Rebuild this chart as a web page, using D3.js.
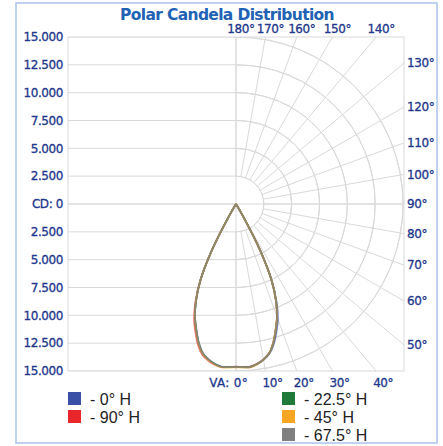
<!DOCTYPE html>
<html>
<head>
<meta charset="utf-8">
<script src="https://cdn.jsdelivr.net/npm/d3@7"></script>
<style>
  html, body { margin: 0; padding: 0; background: #fff; }
  svg { display: block; }
</style>
</head>
<body>
<svg id="chart" width="443" height="446"></svg>
<script>
// ---------- data ----------
const title = "Polar Candela Distribution";
const cdTicks = [15000, 12500, 10000, 7500, 5000, 2500, 0, -2500, -5000, -7500, -10000, -12500, -15000];
const cdTickLabels = ["15.000", "12.500", "10.000", "7.500", "5.000", "2.500", "CD: 0", "2.500", "5.000", "7.500", "10.000", "12.500", "15.000"];
const arcRadii = [2500, 5000, 7500, 10000, 12500, 15000];
const gridAngles = [0, 10, 20, 30, 40, 50, 60, 70, 80, 90, 100, 110, 120, 130, 140, 150, 160, 170, 180];
const bottomAngleLabels = [0, 10, 20, 30, 40];
const rightAngleLabels = [50, 60, 70, 80, 90, 100, 110, 120, 130];
const topAngleLabels = [140, 150, 160, 170, 180];

// vertical angles (degrees from nadir) for candela values
const vAngles = [0, 2.5, 5, 7.5, 10, 12.5, 15, 17.5, 20, 22.5, 25, 27.5, 30, 32.5, 35];

const h0Right   = [14640, 14670, 14700, 14520, 14220, 13800, 13060, 12060, 11000, 9520, 7600, 4750, 1250, 0, 0];
const h0Left    = [14640, 14650, 14680, 14490, 14170, 13720, 12900, 11830, 10760, 9360, 7560, 4730, 1240, 0, 0];
const h90Right  = [14620, 14640, 14670, 14480, 14170, 13730, 12910, 11840, 10760, 9360, 7560, 4740, 1250, 0, 0];
const h90Left   = [14620, 14650, 14700, 14560, 14290, 13900, 13140, 12090, 10990, 9500, 7620, 4760, 1260, 0, 0];
const h225Right = [14640, 14660, 14690, 14500, 14190, 13750, 12930, 11860, 10780, 9380, 7570, 4740, 1250, 0, 0];
const h225Left  = [14640, 14660, 14690, 14500, 14190, 13750, 12930, 11860, 10780, 9380, 7570, 4740, 1250, 0, 0];
const h45Right  = [14680, 14700, 14720, 14530, 14200, 13740, 12910, 11840, 10770, 9370, 7560, 4730, 1250, 0, 0];
const h45Left   = [14680, 14700, 14730, 14560, 14240, 13800, 12990, 11910, 10830, 9410, 7580, 4740, 1250, 0, 0];
const h675Right = [14650, 14660, 14690, 14500, 14180, 13740, 12920, 11850, 10770, 9370, 7570, 4740, 1250, 0, 0];
const h675Left  = [14650, 14660, 14690, 14500, 14190, 13750, 12940, 11870, 10790, 9380, 7570, 4740, 1250, 0, 0];

const seriesNames  = ["0° H", "90° H", "22.5° H", "45° H", "67.5° H"];
const seriesColors = ["#3a4fa6", "#e8262c", "#1f7a3a", "#f5a623", "#808080"];
const seriesRight  = [h0Right, h90Right, h225Right, h45Right, h675Right];
const seriesLeft   = [h0Left, h90Left, h225Left, h45Left, h675Left];

// ---------- layout ----------
const svg = d3.select("#chart");
const cx = 236, cy = 204, R = 167;
const rScale = d3.scaleLinear().domain([0, 15000]).range([0, R]);
const yScale = d3.scaleLinear().domain([15000, -15000]).range([cy - R, cy + R]);
const pL = cx - R - 1, pR = cx + R + 1, pT = cy - R, pB = cy + R;
const gridColor = "#d9d9d9";
const labelColor = "#22378a";
const labelFont = "DejaVu Sans, Verdana, sans-serif";

function styleLabel(sel) {
  return sel.attr("font-family", labelFont).attr("font-size", 12)
    .attr("letter-spacing", "-0.4px")
    .attr("fill", labelColor).attr("stroke", labelColor).attr("stroke-width", 0.3);
}

// outer frame
svg.append("rect").attr("x", 16).attr("y", 3).attr("width", 421).attr("height", 440)
  .attr("fill", "#fff").attr("stroke", "#aac3ea").attr("stroke-width", 1.5);

// title
svg.append("text").attr("x", 227).attr("y", 19.5).attr("text-anchor", "middle")
  .attr("font-family", labelFont).attr("font-weight", "bold").attr("font-size", 15.5)
  .attr("letter-spacing", "-0.65px")
  .attr("fill", "#2262b4").text(title);

// clip
svg.append("clipPath").attr("id", "plotClip").append("rect")
  .attr("x", pL).attr("y", pT).attr("width", pR - pL).attr("height", pB - pT);

const grid = svg.append("g").attr("clip-path", "url(#plotClip)")
  .attr("fill", "none").attr("stroke", gridColor).attr("stroke-width", 1);

// left half horizontal lines
grid.selectAll("line.h").data(cdTicks).join("line").attr("class", "h")
  .attr("x1", pL).attr("x2", cx).attr("y1", d => yScale(d)).attr("y2", d => yScale(d));
// center lines
grid.append("line").attr("x1", pL).attr("x2", pR).attr("y1", cy).attr("y2", cy);
grid.append("line").attr("x1", cx).attr("x2", cx).attr("y1", pT).attr("y2", pB);

// arcs on right half
const arcGen = d3.arc().startAngle(0).endAngle(Math.PI);
grid.selectAll("path.arc").data(arcRadii).join("path").attr("class", "arc")
  .attr("transform", `translate(${cx},${cy})`)
  .attr("d", d => arcGen({innerRadius: rScale(d), outerRadius: rScale(d)}));

// radial lines (angle from nadir, toward right side)
const rad = a => a * Math.PI / 180;
grid.selectAll("line.r").data(gridAngles).join("line").attr("class", "r")
  .attr("x1", a => cx + rScale(2500) * Math.sin(rad(a)))
  .attr("y1", a => cy + rScale(2500) * Math.cos(rad(a)))
  .attr("x2", a => cx + rScale(40000) * Math.sin(rad(a)))
  .attr("y2", a => cy + rScale(40000) * Math.cos(rad(a)));

// plot border
svg.append("rect").attr("x", pL).attr("y", pT).attr("width", pR - pL).attr("height", pB - pT)
  .attr("fill", "none").attr("stroke", gridColor);

// left tick labels
svg.append("g").selectAll("text").data(cdTicks).join("text")
  .attr("x", 63).attr("y", d => yScale(d)).attr("dy", "0.35em").attr("text-anchor", "end")
  .call(styleLabel)
  .text((d, i) => cdTickLabels[i]);

// bottom angle labels
svg.append("g").selectAll("text").data(bottomAngleLabels).join("text")
  .attr("x", a => a === 0 ? cx + 12 : cx + R * Math.tan(rad(a)) - 3)
  .attr("y", pB + 16)
  .attr("text-anchor", a => a === 0 ? "end" : "start")
  .call(styleLabel)
  .attr("letter-spacing", a => a === 0 ? "0.3px" : "-0.4px")
  .text(a => a === 0 ? "VA: 0°" : a + "°");

// right angle labels
svg.append("g").selectAll("text").data(rightAngleLabels).join("text")
  .attr("x", pR + 3)
  .attr("y", a => cy + (R + 1) * Math.cos(rad(a)) / Math.sin(rad(a)))
  .attr("dy", "0.35em")
  .call(styleLabel)
  .text(a => a + "°");

// top angle labels
svg.append("g").selectAll("text").data(topAngleLabels).join("text")
  .attr("x", a => cx + R * Math.tan(rad(180 - a)) + 5)
  .attr("y", pT - 4)
  .attr("text-anchor", "middle")
  .call(styleLabel)
  .text(a => a + "°");

// curves
const line = d3.lineRadial()
  .angle(d => Math.PI - rad(d.a))
  .radius(d => rScale(d.v))
  .curve(d3.curveCatmullRom);

const curves = svg.append("g").attr("transform", `translate(${cx},${cy})`);
const drawOrder = [1, 0, 2, 3, 4];
drawOrder.forEach(i => {
  const pts = [];
  for (let k = vAngles.length - 1; k >= 0; k--) pts.push({a: -vAngles[k], v: seriesLeft[i][k]});
  for (let k = 1; k < vAngles.length; k++) pts.push({a: vAngles[k], v: seriesRight[i][k]});
  curves.append("path").attr("d", line(pts))
    .attr("fill", "none").attr("stroke", seriesColors[i])
    .attr("stroke-width", 1.8).attr("stroke-opacity", 0.7);
});

// legend
const legendPos = [[68, 392], [68, 410], [282, 392], [282, 410], [282, 428]];
const legend = svg.append("g");
seriesNames.forEach((n, i) => {
  const [x, y] = legendPos[i];
  legend.append("rect").attr("x", x).attr("y", y).attr("width", 13).attr("height", 13)
    .attr("fill", seriesColors[i]);
  legend.append("text").attr("x", x + 22).attr("y", y + 7).attr("dy", "0.36em")
    .attr("font-family", "Liberation Sans, Arial, sans-serif").attr("font-size", 16)
    .attr("fill", "#222").text("- " + n);
});
</script>
</body>
</html>
